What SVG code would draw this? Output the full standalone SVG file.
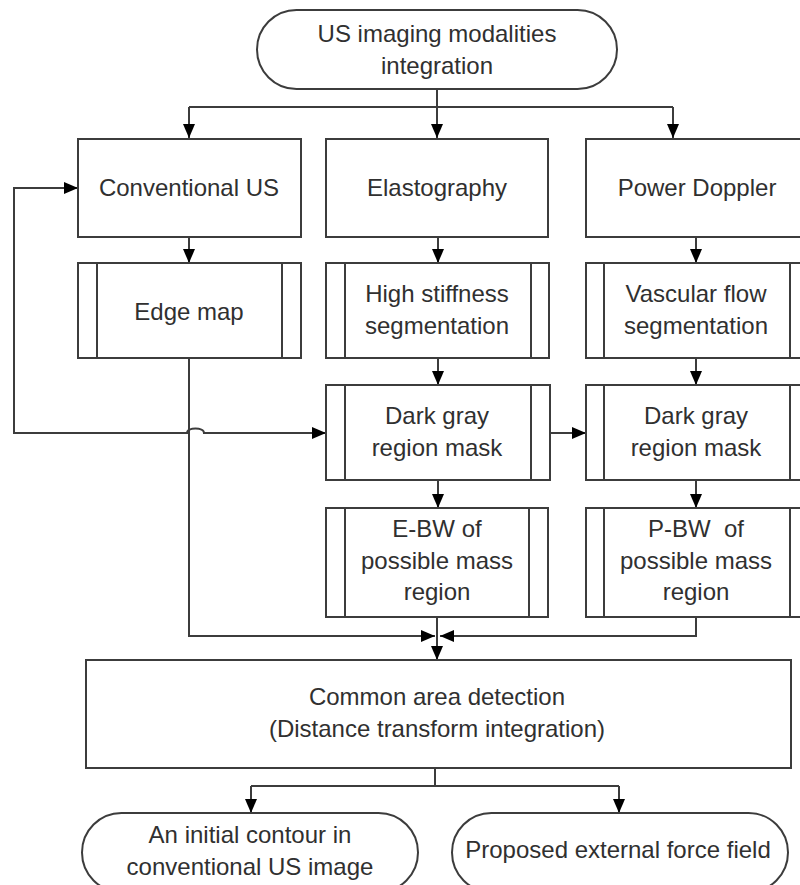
<svg xmlns="http://www.w3.org/2000/svg" width="800" height="885" viewBox="0 0 800 885">
<style>
.box{fill:#fff;stroke:#3c3c3c;stroke-width:2}
.inner{stroke:#3c3c3c;stroke-width:2;fill:none}
.t{font-family:"Liberation Sans",Arial,sans-serif;font-size:24px;fill:#303030;text-anchor:middle}
.c{fill:none;stroke:#3c3c3c;stroke-width:2}
</style>
<defs>
<marker id="ar" viewBox="0 0 14 12" refX="14" refY="6" markerWidth="14" markerHeight="12" markerUnits="userSpaceOnUse" orient="auto-start-reverse">
<path d="M0,0 L14,6 L0,12 z" fill="#000"/>
</marker>
</defs>
<rect width="800" height="885" fill="#fff"/>

<g id="connectors">
<path class="c" d="M437,89 V107"/>
<path class="c" d="M189,107 H673"/>
<path class="c" d="M189,107 V138" marker-end="url(#ar)"/>
<path class="c" d="M437,107 V138" marker-end="url(#ar)"/>
<path class="c" d="M673,107 V138" marker-end="url(#ar)"/>
<path class="c" d="M189,237 V263" marker-end="url(#ar)"/>
<path class="c" d="M438,237 V263" marker-end="url(#ar)"/>
<path class="c" d="M696,237 V263" marker-end="url(#ar)"/>
<path class="c" d="M438,358 V385" marker-end="url(#ar)"/>
<path class="c" d="M696,358 V385" marker-end="url(#ar)"/>
<path class="c" d="M78,188 H14 V433 H187 C187,427 204,427 204,433 H326" marker-start="url(#ar)" marker-end="url(#ar)"/>
<path class="c" d="M550,433 H586" marker-end="url(#ar)"/>
<path class="c" d="M438,480 V508" marker-end="url(#ar)"/>
<path class="c" d="M696,480 V508" marker-end="url(#ar)"/>
<path class="c" d="M189,358 V636 H435" marker-end="url(#ar)"/>
<path class="c" d="M696,617 V636 H440" marker-end="url(#ar)"/>
<path class="c" d="M437,617 V660" marker-end="url(#ar)"/>
<path class="c" d="M435,768 V786"/>
<path class="c" d="M251,786 H619"/>
<path class="c" d="M251,786 V813" marker-end="url(#ar)"/>
<path class="c" d="M619,786 V813" marker-end="url(#ar)"/>
</g>

<g id="start">
<rect class="box" x="257" y="10" width="360" height="79" rx="39.5" ry="39.5"/>
<text class="t" x="437" y="42">US imaging modalities</text>
<text class="t" x="437" y="74">integration</text>
</g>

<g id="conventional-us">
<rect class="box" x="78" y="139" width="223" height="98"/>
<text class="t" x="189" y="196">Conventional US</text>
</g>
<g id="elastography">
<rect class="box" x="326" y="139" width="222" height="98"/>
<text class="t" x="437" y="196">Elastography</text>
</g>
<g id="power-doppler">
<rect class="box" x="586" y="139" width="222" height="98"/>
<text class="t" x="697" y="196">Power Doppler</text>
</g>

<g id="edge-map">
<rect class="box" x="78" y="263" width="223" height="95"/>
<path class="inner" d="M97,263 V358 M282,263 V358"/>
<text class="t" x="189" y="320">Edge map</text>
</g>
<g id="high-stiffness">
<rect class="box" x="326" y="263" width="223" height="95"/>
<path class="inner" d="M345,263 V358 M531,263 V358"/>
<text class="t" x="437" y="302">High stiffness</text>
<text class="t" x="437" y="334">segmentation</text>
</g>
<g id="vascular-flow">
<rect class="box" x="586" y="263" width="222" height="95"/>
<path class="inner" d="M604,263 V358 M790,263 V358"/>
<text class="t" x="696" y="302">Vascular flow</text>
<text class="t" x="696" y="334">segmentation</text>
</g>

<g id="dark-gray-e">
<rect class="box" x="326" y="385" width="224" height="95"/>
<path class="inner" d="M345,385 V480 M531,385 V480"/>
<text class="t" x="437" y="424">Dark gray</text>
<text class="t" x="437" y="456">region mask</text>
</g>
<g id="dark-gray-p">
<rect class="box" x="586" y="385" width="222" height="95"/>
<path class="inner" d="M604,385 V480 M790,385 V480"/>
<text class="t" x="696" y="424">Dark gray</text>
<text class="t" x="696" y="456">region mask</text>
</g>

<g id="e-bw">
<rect class="box" x="326" y="508" width="222" height="109"/>
<path class="inner" d="M345,508 V617 M529,508 V617"/>
<text class="t" x="437" y="537">E-BW of</text>
<text class="t" x="437" y="569">possible mass</text>
<text class="t" x="437" y="600">region</text>
</g>
<g id="p-bw">
<rect class="box" x="586" y="508" width="222" height="109"/>
<path class="inner" d="M604,508 V617 M790,508 V617"/>
<text class="t" x="696" y="537" xml:space="preserve">P-BW  of</text>
<text class="t" x="696" y="569">possible mass</text>
<text class="t" x="696" y="600">region</text>
</g>

<g id="common-area">
<rect class="box" x="86" y="660" width="705" height="108"/>
<text class="t" x="437" y="705">Common area detection</text>
<text class="t" x="437" y="737">(Distance transform integration)</text>
</g>

<g id="initial-contour">
<rect class="box" x="82" y="813" width="336" height="79" rx="39.5" ry="39.5"/>
<text class="t" x="250" y="843">An initial contour in</text>
<text class="t" x="250" y="875">conventional US image</text>
</g>
<g id="external-force">
<rect class="box" x="452" y="813" width="336" height="79" rx="39.5" ry="39.5"/>
<text class="t" x="618" y="858">Proposed external force field</text>
</g>
</svg>
